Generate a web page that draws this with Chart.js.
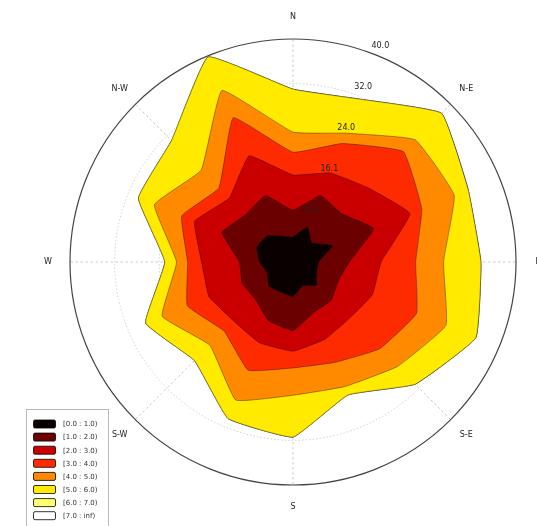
<!DOCTYPE html>
<html><head><meta charset="utf-8">
<script src="https://cdn.jsdelivr.net/npm/chart.js@4.4.1/dist/chart.umd.min.js"></script>
<style>html,body{margin:0;padding:0;background:#fff;overflow:hidden}canvas{display:block}</style>
</head><body>
<canvas id="c" width="537" height="526"></canvas>
<script>
// 16 sectors, clockwise from North
const directions = ['N','NNE','NE','ENE','E','ESE','SE','SSE','S','SSW','SW','WSW','W','WNW','NW','NNW'];
const compassLabels = ['N','N-E','E','S-E','S','S-W','W','N-W'];
const radialTicks = [8.1, 16.1, 24.0, 32.0, 40.0];
const binLabels = ['[0.0 : 1.0)','[1.0 : 2.0)','[2.0 : 3.0)','[3.0 : 4.0)','[4.0 : 5.0)','[5.0 : 6.0)','[6.0 : 7.0)','[7.0 : inf)'];
const binColors = ['#0b0000','#6a0000','#ca0000','#ff2b00','#ff8a00','#ffea00','#ffff6f','#ffffff'];

// frequency per speed bin and direction
const bin0_1 = [4.5,6.8,4.8,7.7,4.6,4.6,5.9,4.6,6.2,5.8,6.1,5.0,6.0,7.0,6.6,5.0];
const bin1_2 = [4.8,6.1,7.5,8.0,5.5,4.2,3.8,5.2,6.1,5.6,3.4,4.9,3.6,6.8,5.4,7.9];
const bin2_3 = [6.3,4.4,6.6,7.0,5.7,6.6,4.6,5.2,3.7,4.3,5.5,6.4,6.8,5.3,4.2,7.7];
const bin3_4 = [4.1,5.7,9.1,2.3,6.2,8.6,7.7,4.5,3.0,5.3,2.5,4.2,2.5,2.5,2.6,7.4];
const bin4_5 = [3.6,2.0,3.0,6.3,5.0,5.7,4.5,4.7,4.9,5.8,3.6,4.9,2.0,5.3,4.5,5.3];
const bin5_6 = [7.7,6.6,6.7,2.7,6.7,5.8,4.5,1.6,7.5,3.6,3.9,3.2,2.1,3.1,7.5,6.5];
const bin6_7 = [0,0,0,0,0,0,0,0,0,0,0,0,0,0,0,0];
const bin7_inf = [0,0,0,0,0,0,0,0,0,0,0,0,0,0,0,0];

const bins = [bin0_1, bin1_2, bin2_3, bin3_4, bin4_5, bin5_6, bin6_7, bin7_inf];
let running = directions.map(() => 0);
const datasets = bins.map((b, k) => {
  running = running.map((v, i) => v + b[i]);
  return {
    label: binLabels[k], data: running.slice(),
    backgroundColor: binColors[k], borderColor: 'rgba(0,0,0,0.6)', borderWidth: 0.6,
    fill: 'origin', pointRadius: 0, pointHoverRadius: 0, tension: 0.1
  };
});

Chart.defaults.font.family = '"DejaVu Sans", sans-serif';
const lastTick = radialTicks.length;

const overlay = {
  id: 'overlay',
  afterDraw(chart) {
    const s = chart.scales.r, ctx = chart.ctx;
    ctx.save();
    ctx.fillStyle = '#222';
    ctx.textAlign = 'center'; ctx.textBaseline = 'middle';
    ctx.font = '8px "DejaVu Sans"';
    compassLabels.forEach((t, i) => {
      const p = s.getPointPosition(i * 2, s.drawingArea + 22);
      ctx.fillText(t, p.x, p.y);
    });
    radialTicks.forEach(v => {
      const p = s.getPointPositionForValue(1, v);
      ctx.fillText(v.toFixed(1), p.x + 2, p.y - 10);
    });
    // legend
    ctx.fillStyle = '#fff';
    ctx.fillRect(26.5, 409.5, 82, 130);
    ctx.strokeStyle = '#aaa'; ctx.lineWidth = 0.8;
    ctx.strokeRect(26.5, 409.5, 82, 130);
    ctx.textAlign = 'left';
    ctx.font = '7px "DejaVu Sans"';
    binLabels.forEach((t, i) => {
      const y = 424 + i * 13.1;
      ctx.fillStyle = binColors[i];
      ctx.beginPath(); ctx.roundRect(33.5, y - 4, 22, 8, 1.5); ctx.fill();
      ctx.strokeStyle = '#000'; ctx.lineWidth = 0.8; ctx.stroke();
      ctx.fillStyle = '#333';
      ctx.fillText(t, 63, y + 0.5);
    });
    ctx.restore();
  }
};

new Chart(document.getElementById('c'), {
  type: 'radar',
  data: { labels: directions, datasets },
  options: {
    responsive: false, animation: false,
    layout: { padding: { left: 70, right: 20, top: 38.5, bottom: 40.5 } },
    plugins: { legend: { display: false }, tooltip: { enabled: false } },
    elements: { line: { borderJoinStyle: 'miter' } },
    scales: {
      r: {
        min: 0, max: radialTicks[radialTicks.length - 1], z: 1,
        afterBuildTicks: sc => { sc.ticks = [0, ...radialTicks].map(v => ({ value: v })); },
        ticks: { display: false },
        pointLabels: { display: false },
        grid: {
          circular: true,
          color: c => c.index === lastTick ? '#444' : 'rgba(0,0,0,0.3)',
          lineWidth: c => c.index === lastTick ? 1.2 : 0.6
        },
        border: { dash: c => c.index === lastTick ? [] : [1.5, 2] },
        angleLines: {
          color: 'rgba(0,0,0,0.3)',
          lineWidth: c => c.index % 2 === 0 ? 0.7 : 0,
          borderDash: [2.5, 2.5]
        }
      }
    }
  },
  plugins: [overlay]
});
</script>
</body></html>
